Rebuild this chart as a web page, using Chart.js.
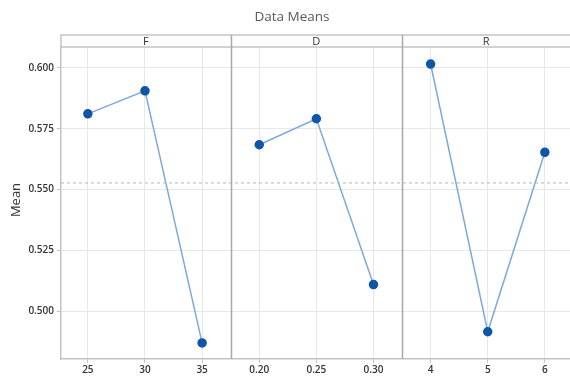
<!DOCTYPE html>
<html>
<head>
<meta charset="utf-8">
<script src="https://cdn.jsdelivr.net/npm/chart.js@4.4.1/dist/chart.umd.min.js"></script>
<style>
  html, body { margin: 0; padding: 0; background: #fff; }
  #wrap { width: 570px; height: 376px; }
</style>
</head>
<body>
<div id="wrap"><canvas id="chart" width="570" height="376"></canvas></div>
<script>
// factors and their levels
const factors = ["F", "D", "R"];
const fLevels = ["25", "30", "35"];
const dLevels = ["0.20", "0.25", "0.30"];
const rLevels = ["4", "5", "6"];

// means
const fMeans = [0.5811, 0.5906, 0.4869];
const dMeans = [0.5684, 0.5791, 0.5109];
const rMeans = [0.6016, 0.4915, 0.5653];
const grandMean = 0.5527;

const yTicks = [0.500, 0.525, 0.550, 0.575, 0.600];

const xLabels = [...fLevels, ...dLevels, ...rLevels];
const X_MIN = -0.47, X_MAX = 8.44;

function pts(vals, off) {
  return vals.map((v, i) => ({ x: off + i, y: v }));
}

const lineStyle = {
  borderColor: "#7fa9da",
  borderWidth: 1.5,
  pointBackgroundColor: "#0f56a8",
  pointBorderColor: "#0f56a8",
  pointRadius: 4,
  showLine: true,
  tension: 0
};

// panel strip, dividers, title, y title
const panels = {
  id: "panels",
  afterDraw(chart) {
    const { ctx, chartArea: a, scales: { x } } = chart;
    const top = a.top - 12;
    ctx.save();
    ctx.strokeStyle = "#c3c3c3";
    ctx.lineWidth = 1.5;
    ctx.beginPath();
    ctx.moveTo(a.left, a.top); ctx.lineTo(a.left, top); ctx.lineTo(a.right, top);
    ctx.moveTo(a.left, a.top); ctx.lineTo(a.right, a.top);
    ctx.stroke();

    ctx.strokeStyle = "#a8a8a8";
    ctx.lineWidth = 1.5;
    [2.5, 5.5].forEach(v => {
      const px = Math.round(x.getPixelForValue(v)) + 0.5;
      ctx.beginPath(); ctx.moveTo(px, top); ctx.lineTo(px, a.bottom); ctx.stroke();
    });

    ctx.fillStyle = "#333";
    ctx.font = "11px 'Open Sans'";
    ctx.textAlign = "center";
    ctx.textBaseline = "middle";
    const edges = [a.left, x.getPixelForValue(2.5), x.getPixelForValue(5.5), a.right];
    factors.forEach((f, i) => {
      ctx.fillText(f, (edges[i] + edges[i + 1]) / 2, top + 6.5);
    });

    ctx.fillStyle = "#595959";
    ctx.font = "13.5px 'Open Sans'";
    ctx.fillText("Data Means", 292, 17);

    ctx.fillStyle = "#333";
    ctx.font = "13px 'Open Sans'";
    ctx.translate(16, 200);
    ctx.rotate(-Math.PI / 2);
    ctx.fillText("Mean", 0, 0);
    ctx.restore();
  }
};

new Chart(document.getElementById("chart"), {
  type: "scatter",
  data: {
    datasets: [
      { data: [{ x: X_MIN, y: grandMean }, { x: X_MAX, y: grandMean }], showLine: true,
        borderColor: "#b5b5b5", borderWidth: 1, borderDash: [3, 3], pointRadius: 0 },
      { ...lineStyle, data: pts(fMeans, 0) },
      { ...lineStyle, data: pts(dMeans, 3) },
      { ...lineStyle, data: pts(rMeans, 6) }
    ]
  },
  options: {
    responsive: false,
    animation: false,
    layout: { autoPadding: false, padding: { top: 47, right: 0, left: 0, bottom: 0 } },
    plugins: { legend: { display: false }, tooltip: { enabled: false } },
    scales: {
      x: {
        type: "linear",
        min: X_MIN, max: X_MAX,
        afterBuildTicks: s => { s.ticks = xLabels.map((_, i) => ({ value: i })); },
        afterFit: s => { s.height = 17; s.paddingLeft = 0; s.paddingRight = 0; },
        ticks: { callback: (v) => xLabels[v], color: "#333", font: { size: 10, family: "'Open Sans'", weight: "600" }, padding: 1, maxRotation: 0 },
        grid: { color: "#e8e8e8", tickLength: 4, tickColor: "#c3c3c3" },
        border: { color: "#c3c3c3", width: 1.5 }
      },
      y: {
        min: 0.4803, max: 0.6086,
        afterBuildTicks: s => { s.ticks = yTicks.map(v => ({ value: v })); },
        afterFit: s => { s.width = 61; s.paddingTop = 0; s.paddingBottom = 0; },
        ticks: { callback: v => v.toFixed(3), color: "#333", font: { size: 10, family: "'Open Sans'", weight: "600" }, padding: 3 },
        grid: { color: "#e8e8e8", tickLength: 4, tickColor: "#c3c3c3" },
        border: { color: "#c3c3c3", width: 1.5 }
      }
    }
  },
  plugins: [panels]
});
</script>
</body>
</html>
